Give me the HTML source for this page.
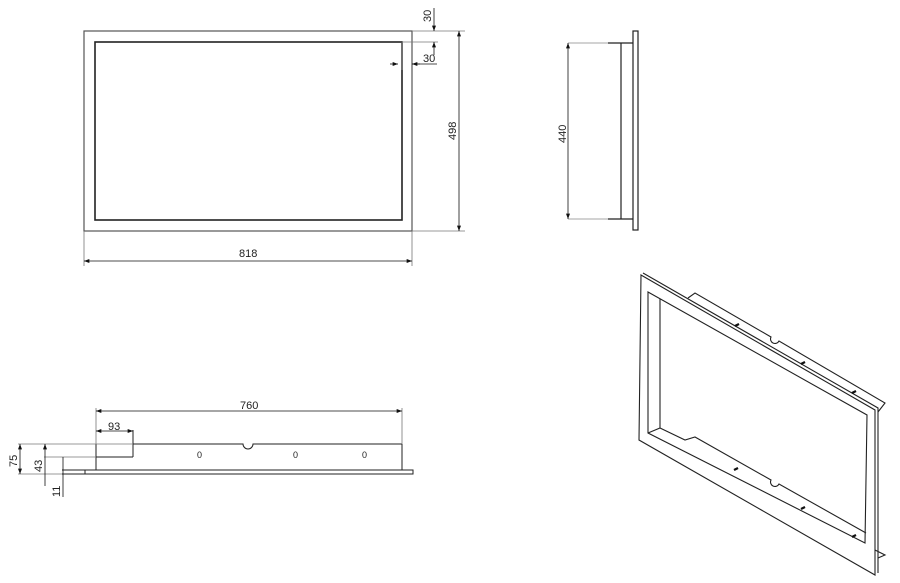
<!DOCTYPE html>
<html><head><meta charset="utf-8"><style>
html,body{margin:0;padding:0;background:#fff;width:900px;height:583px;overflow:hidden}
svg{display:block}
text{font-family:"Liberation Sans",sans-serif;font-size:11px;fill:#222}
</style></head><body>
<svg width="900" height="583" viewBox="0 0 900 583" xmlns="http://www.w3.org/2000/svg">
<defs>
<marker id="a" viewBox="0 0 8 6" refX="8" refY="3" markerWidth="7" markerHeight="5" orient="auto-start-reverse"><path d="M0,0L8,3L0,6z" fill="#111"/></marker>
</defs>
<g fill="none" stroke="#333" stroke-width="1.2">
<rect x="84" y="31" width="328" height="200" stroke="#555"/>
<rect x="95" y="42" width="307" height="178" stroke="#222" stroke-width="1.6"/>
</g>
<g stroke="#777" stroke-width="0.8" fill="none">
<line x1="412" y1="31" x2="465" y2="31"/>
<line x1="412" y1="231" x2="465" y2="231"/>
<line x1="402" y1="42" x2="438" y2="42"/>
<line x1="84" y1="231" x2="84" y2="266"/>
<line x1="412" y1="231" x2="412" y2="266"/>
<line x1="402" y1="42" x2="402" y2="70"/>
</g>
<g stroke="#111" stroke-width="0.8" fill="none">
<line x1="459" y1="31" x2="459" y2="231" marker-start="url(#a)" marker-end="url(#a)"/>
<line x1="84" y1="261" x2="412" y2="261" marker-start="url(#a)" marker-end="url(#a)"/>
<line x1="434" y1="8" x2="434" y2="31" marker-end="url(#a)"/>
<line x1="434" y1="55" x2="434" y2="42" marker-end="url(#a)"/>
<line x1="390" y1="64" x2="398" y2="64" marker-end="url(#a)"/>
<line x1="420" y1="64" x2="412" y2="64" marker-end="url(#a)"/>
<line x1="412" y1="64" x2="437" y2="64"/>
</g>
<text x="239" y="257">818</text>
<text transform="translate(456,140) rotate(-90)">498</text>
<text transform="translate(431,22) rotate(-90)">30</text>
<text x="423" y="62">30</text>
<g fill="none" stroke="#222" stroke-width="1.2">
<rect x="633" y="31" width="5" height="199"/>
<line x1="608" y1="43" x2="633" y2="43"/>
<line x1="608" y1="219" x2="633" y2="219"/>
<line x1="621" y1="43" x2="621" y2="219"/>
</g>
<g stroke="#888" stroke-width="0.8"><line x1="568" y1="43" x2="608" y2="43"/><line x1="568" y1="219" x2="608" y2="219"/></g>
<line x1="568" y1="43" x2="568" y2="219" stroke="#111" stroke-width="0.8" marker-start="url(#a)" marker-end="url(#a)"/>
<text transform="translate(566,143) rotate(-90)">440</text>
<g fill="none" stroke="#222" stroke-width="1">
<rect x="85" y="470" width="328" height="4"/>
<line x1="62" y1="470" x2="85" y2="470"/>
<line x1="62" y1="474" x2="85" y2="474"/>
<line x1="96" y1="444" x2="96" y2="470"/>
<line x1="402" y1="444" x2="402" y2="470"/>
<line x1="133" y1="430" x2="133" y2="457"/>
<line x1="96" y1="457" x2="133" y2="457"/>
<path d="M133,444 H243 a5,5 0 0 0 10,0 H402"/>
</g>
<g stroke="#777" stroke-width="0.8"><line x1="18" y1="444" x2="133" y2="444"/><line x1="44" y1="457" x2="96" y2="457"/><line x1="18" y1="474" x2="62" y2="474"/><line x1="96" y1="408" x2="96" y2="444"/><line x1="402" y1="408" x2="402" y2="444"/></g>
<g stroke="#111" stroke-width="0.8">
<line x1="96" y1="411" x2="402" y2="411" marker-start="url(#a)" marker-end="url(#a)"/>
<line x1="96" y1="431" x2="133" y2="431" marker-start="url(#a)" marker-end="url(#a)"/>
<line x1="20" y1="444" x2="20" y2="474" marker-start="url(#a)" marker-end="url(#a)"/>
<line x1="45" y1="444" x2="45" y2="486" marker-start="url(#a)"/>
<line x1="63" y1="457" x2="63" y2="497"/>
</g>
<text x="240" y="409">760</text>
<text x="108" y="430">93</text>
<text transform="translate(17,467) rotate(-90)">75</text>
<text transform="translate(42,472) rotate(-90)">43</text>
<text transform="translate(60,497) rotate(-90)">11</text>
<text x="197" y="458" style="font-size:9px">0</text>
<text x="293" y="458" style="font-size:9px">0</text>
<text x="362" y="458" style="font-size:9px">0</text>
<g fill="none" stroke="#222" stroke-width="1.1">
<path d="M641,275 L875,410 L875,575 L639,440 Z"/>
<path d="M643,273 L878,408 L878,573"/>
<path d="M648,292 L867,415 L865,543 L648,433 Z"/>
<path d="M660,299 L660,428"/>
<path d="M648,433 L660,428 L685,440 L695,437 L771,480 a4,4 0 0 0 8,4 L866,533"/>
<path d="M688,298 L695,293 L771,337 a4,4 0 0 0 8,4 L885,403 L878,412"/>
<path d="M875,550 L885,555 L878,558"/>
</g>
<g stroke="#111" stroke-width="2.2">
<line x1="735" y1="326" x2="739" y2="324"/><line x1="801" y1="364" x2="805" y2="362"/><line x1="852" y1="393" x2="856" y2="391"/>
<line x1="734" y1="470" x2="738" y2="468"/><line x1="801" y1="509" x2="805" y2="507"/><line x1="852" y1="537" x2="856" y2="535"/>
</g>
</svg>
</body></html>
